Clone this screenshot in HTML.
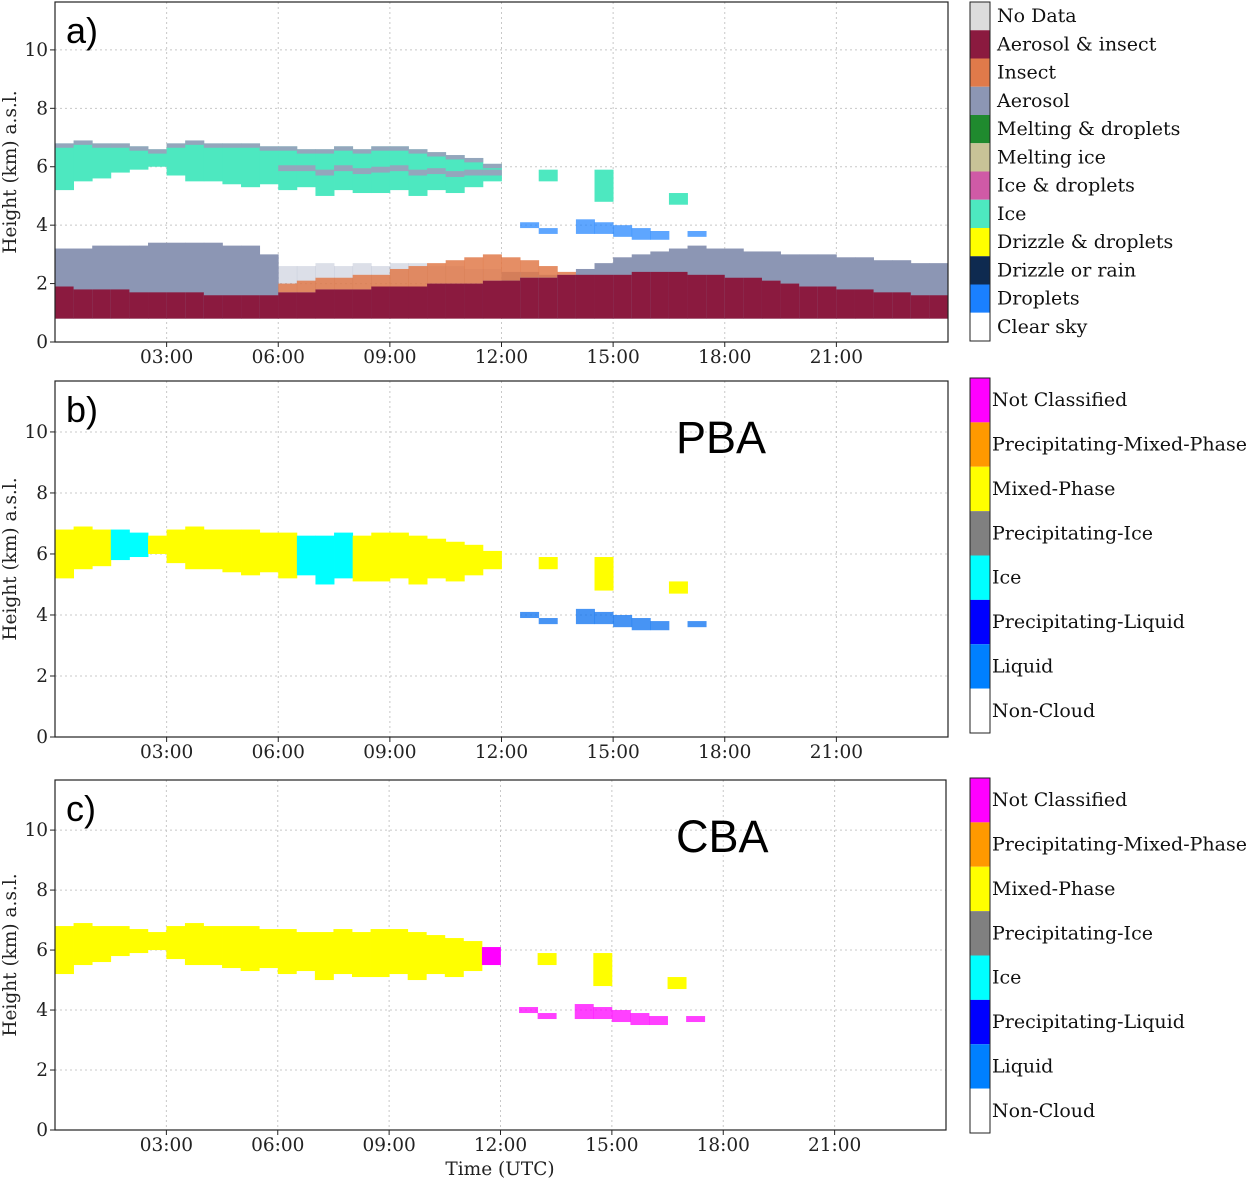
<!DOCTYPE html>
<html><head><meta charset="utf-8"><style>
body{margin:0;background:#fff;}
svg{display:block;}
.tk{font-family:"DejaVu Serif","Liberation Serif",serif;font-size:18.5px;fill:#222;}
.lg{font-family:"DejaVu Serif","Liberation Serif",serif;font-size:19px;fill:#111;}
</style></head><body>
<svg id="s" width="1254" height="1179" xmlns="http://www.w3.org/2000/svg"></svg>
<script>
// ---- data (hours binned by 0.5h, heights in km) ----
const binHours = Array.from({length:48},(_,i)=>i*0.5);
const iceTop = [6.8,6.9,6.8,6.8,6.7,6.6,6.8,6.9,6.8,6.8,6.8,6.7,6.7,6.6,6.6,6.7,6.6,6.7,6.7,6.6,6.5,6.4,6.3,6.1,null,null,5.9,null,null,5.9,null,null,null,5.1,null,null,null,null,null,null,null,null,null,null,null,null,null,null];
const iceBot = [5.2,5.5,5.6,5.8,5.9,6.0,5.7,5.5,5.5,5.4,5.3,5.4,5.2,5.3,5.0,5.2,5.1,5.1,5.2,5.0,5.2,5.1,5.3,5.5,null,null,5.5,null,null,4.8,null,null,null,4.7,null,null,null,null,null,null,null,null,null,null,null,null,null,null];
const lowTop = [null,null,null,null,null,null,null,null,null,null,null,null,null,null,null,null,null,null,null,null,null,null,null,null,null,4.1,3.9,null,4.2,4.1,4.0,3.9,3.8,null,3.8,null,null,null,null,null,null,null,null,null,null,null,null,null];
const lowBot = [null,null,null,null,null,null,null,null,null,null,null,null,null,null,null,null,null,null,null,null,null,null,null,null,null,3.9,3.7,null,3.7,3.7,3.6,3.5,3.5,null,3.6,null,null,null,null,null,null,null,null,null,null,null,null,null];
const aeroTop = [3.2,3.2,3.3,3.3,3.3,3.4,3.4,3.4,3.4,3.3,3.3,3.0,2.6,2.6,2.7,2.6,2.7,2.6,2.7,2.7,2.6,2.6,2.5,2.5,2.4,2.4,2.3,2.3,2.5,2.7,2.9,3.0,3.1,3.2,3.3,3.2,3.2,3.1,3.1,3.0,3.0,3.0,2.9,2.9,2.8,2.8,2.7,2.7];
const insectTop = [null,null,null,null,null,null,null,null,null,null,null,null,2.0,2.1,2.2,2.2,2.3,2.3,2.5,2.6,2.7,2.8,2.9,3.0,2.9,2.8,2.6,2.4,2.2,2.1,null,null,null,null,null,null,null,null,null,null,null,null,null,null,null,null,null,null];
const redTop = [1.9,1.8,1.8,1.8,1.7,1.7,1.7,1.7,1.6,1.6,1.6,1.6,1.7,1.7,1.8,1.8,1.8,1.9,1.9,1.9,2.0,2.0,2.0,2.1,2.1,2.2,2.2,2.3,2.3,2.3,2.3,2.4,2.4,2.4,2.3,2.3,2.2,2.2,2.1,2.0,1.9,1.9,1.8,1.8,1.7,1.7,1.6,1.6];
const pbaClass = ['Y','Y','Y','C','C','Y','Y','Y','Y','Y','Y','Y','Y','C','C','C','Y','Y','Y','Y','Y','Y','Y','Y','','','Y','','','Y','','','','Y'];
const cbaClass = ['Y','Y','Y','Y','Y','Y','Y','Y','Y','Y','Y','Y','Y','Y','Y','Y','Y','Y','Y','Y','Y','Y','Y','M','','','Y','','','Y','','','','Y'];
const lowPbaClass = ['','','','','','','','','','','','','','','','','','','','','','','','','','L','L','','L','L','L','L','L','','L'];
const lowCbaClass = ['','','','','','','','','','','','','','','','','','','','','','','','','','M','M','','M','M','M','M','M','','M'];
const xTickHours = [3,6,9,12,15,18,21];
const xTickLabels = ['03:00','06:00','09:00','12:00','15:00','18:00','21:00'];
const yTicks = [0,2,4,6,8,10];
const legendA = [['No Data','#dcdcdc'],['Aerosol & insect','#8b1a3f'],['Insect','#e07a4a'],['Aerosol','#8c96b4'],['Melting & droplets','#1f8a2e'],['Melting ice','#c8c397'],['Ice & droplets','#cf5aa6'],['Ice','#4de8c0'],['Drizzle & droplets','#ffff00'],['Drizzle or rain','#0e2a50'],['Droplets','#1a80ff'],['Clear  sky','#ffffff']];
const legendBC = [['Not Classified','#ff00ff'],['Precipitating-Mixed-Phase','#ff9900'],['Mixed-Phase','#ffff00'],['Precipitating-Ice','#808080'],['Ice','#00ffff'],['Precipitating-Liquid','#0000ff'],['Liquid','#0080ff'],['Non-Cloud','#ffffff']];
const classColor = {Y:'#ffff00',C:'#00ffff',M:'#ff00ff',L:'#0a70f0'};

const NS='http://www.w3.org/2000/svg';
const svg=document.getElementById('s');
function mk(tag,attrs,parent){const e=document.createElementNS(NS,tag);for(const k in attrs)e.setAttribute(k,attrs[k]);(parent||svg).appendChild(e);return e;}

const panels=[
 {id:'a',x0:55,x1:948,top:2,bot:342,ymax:11.64,lx:970,ltop:2,lbot:341,leg:legendA,ltx:997},
 {id:'b',x0:55,x1:948,top:381,bot:737,ymax:11.67,lx:970,ltop:378,lbot:733,leg:legendBC,ltx:992,name:'PBA',cls:pbaClass,low:lowPbaClass},
 {id:'c',x0:55,x1:946,top:780,bot:1130,ymax:11.67,lx:970,ltop:778,lbot:1133,leg:legendBC,ltx:992,name:'CBA',cls:cbaClass,low:lowCbaClass}
];

panels.forEach(p=>{
 const g=mk('g',{});
 
 
 const X=h=>p.x0+(p.x1-p.x0)*h/24;
 const Y=v=>p.bot-(p.bot-p.top)*v/p.ymax;
 const bw=X(0.5)-X(0);
 xTickHours.forEach(h=>{const l=mk('line',{x1:X(h),x2:X(h),y1:p.top,y2:p.bot,stroke:'#c8c8c8','stroke-dasharray':'2,3'},g);});
 yTicks.forEach(v=>{if(v===0)return;const l=mk('line',{x1:p.x0,x2:p.x1,y1:Y(v),y2:Y(v),stroke:'#c8c8c8','stroke-dasharray':'2,3'},g);});
 function bar(i,lo,hi,col,op,nm){
   if(lo==null||hi==null)return;
   const r=mk('rect',{x:X(binHours[i]),y:Y(hi),width:bw+0.4,height:Math.max(0,Y(lo)-Y(hi)),fill:col,opacity:op||1},g);
   
   
 }
 if(p.id==='a'){
   binHours.forEach((h,i)=>{
     bar(i,0.8,aeroTop[i],'#8c96b4',(h>=6&&h<12)?0.3:1,'aerosol-column');
     if(insectTop[i]!=null) bar(i,redTop[i],insectTop[i],'#e07a4a',0.85,'insect-column');
     bar(i,0.8,redTop[i],'#8b1a3f',1,'aerosol-insect-column');
     bar(i,iceBot[i],iceTop[i],'#4de8c0',1,'ice-column');
     if(iceTop[i]!=null && binHours[i]<12){
       bar(i,iceTop[i]-0.15,iceTop[i],'#d070b8',0.55,'ice-droplets-band');
       if(binHours[i]>=6) bar(i,(iceTop[i]+iceBot[i])/2-0.1,(iceTop[i]+iceBot[i])/2+0.1,'#d070b8',0.55,'ice-droplets-band');
     }
     bar(i,lowBot[i],lowTop[i],'#1a80ff',0.7,'droplets-column');
   });
 } else {
   binHours.forEach((h,i)=>{
     const c=p.cls[i]; if(c) bar(i,iceBot[i],iceTop[i],classColor[c],1,'cloud-column');
     const lc=p.low[i]; if(lc) bar(i,lowBot[i],lowTop[i],classColor[lc],0.75,'low-cloud-column');
   });
 }
 const fr=mk('rect',{x:p.x0,y:p.top,width:p.x1-p.x0,height:p.bot-p.top,fill:'none',stroke:'#222','stroke-width':1.2},g);
 
 xTickHours.forEach((h,k)=>{
   mk('line',{x1:X(h),x2:X(h),y1:p.bot,y2:p.bot+5,stroke:'#222'},g);
   const t=mk('text',{x:X(h),y:p.bot+21,'text-anchor':'middle',class:'tk'},g);t.textContent=xTickLabels[k];
   
 });
 yTicks.forEach(v=>{
   mk('line',{x1:p.x0-5,x2:p.x0,y1:Y(v),y2:Y(v),stroke:'#222'},g);
   const t=mk('text',{x:p.x0-7,y:Y(v)+6,'text-anchor':'end',class:'tk'},g);t.textContent=v;
   
 });
 const cy=(p.top+p.bot)/2;
 const yt=mk('text',{x:16,y:cy,'text-anchor':'middle',class:'tk',transform:`rotate(-90 16 ${cy})`},g);
 yt.textContent='Height (km) a.s.l.';
 
 const pl=mk('text',{x:66,y:p.top+41,'font-family':'Liberation Sans, sans-serif','font-size':'36',fill:'#000'},g);
 pl.textContent=p.id+')';
 
 if(p.name){
   const nt=mk('text',{x:676,y:p.top+72,'font-family':'Liberation Sans, sans-serif','font-size':'45',fill:'#000'},g);
   nt.textContent=p.name;
   
 }
 const n=p.leg.length, eh=(p.lbot-p.ltop)/n;
 p.leg.forEach((e,k)=>{
   const r=mk('rect',{x:p.lx,y:p.ltop+k*eh,width:20,height:eh,fill:e[1]},g);
   
   const t=mk('text',{x:p.ltx,y:p.ltop+k*eh+eh/2+6,class:'lg'},g);t.textContent=e[0];
   
 });
 const lf=mk('rect',{x:p.lx,y:p.ltop,width:20,height:p.lbot-p.ltop,fill:'none',stroke:'#222'},g);
 
});
const xt=mk('text',{x:500,y:1175,'text-anchor':'middle',class:'tk'});
xt.textContent='Time (UTC)';


</script>
</body></html>
